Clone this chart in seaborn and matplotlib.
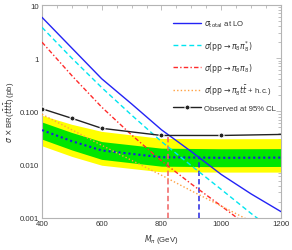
import numpy as np
import pandas as pd
import matplotlib
matplotlib.use("Agg")
import matplotlib.pyplot as plt
import seaborn as sns
from matplotlib.ticker import FixedLocator, NullFormatter, MultipleLocator

# ---- data ----
mass = [400, 500, 600, 700, 800, 900, 1000, 1100, 1200]
sigma_total = [5.87, 1.55, 0.41, 0.138, 0.045, 0.0175, 0.0065, 0.0028, 0.0013]
sigma_pp_conj = [3.8, 1.0, 0.28, 0.085, 0.027, 0.0095, 0.0034, 0.0012, 0.00045]
sigma_pp_pair = [2.0, 0.47, 0.12, 0.036, 0.0117, 0.0043, 0.00166, 0.00063, 0.00025]
sigma_pp_ttbar = [0.088, 0.045, 0.023, 0.012, 0.0063, 0.0032, 0.00166, 0.00085, 0.00045]

lim_mass = [400, 500, 600, 800, 1000, 1200]
observed = [0.112, 0.074, 0.048, 0.0352, 0.0352, 0.0368]
expected = [0.0444, 0.0275, 0.0184, 0.0137, 0.0134, 0.0135]
green_hi = [0.063, 0.040, 0.027, 0.0203, 0.0198, 0.0199]
green_lo = [0.030, 0.0188, 0.0125, 0.0093, 0.0091, 0.0092]
yellow_hi = [0.084, 0.057, 0.042, 0.031, 0.0305, 0.0307]
yellow_lo = [0.0225, 0.0142, 0.0097, 0.0073, 0.0072, 0.0072]

obs_cross_mass = [821]
obs_cross_val = [0.035]
exp_cross_mass = [926]
exp_cross_val = [0.0135]

labels = [r"$\sigma_{\rm total}$ at LO",
          r"$\sigma(\mathrm{pp}\rightarrow\pi_8\pi_8^{*})$",
          r"$\sigma(\mathrm{pp}\rightarrow\pi_8\pi_8)$",
          r"$\sigma(\mathrm{pp}\rightarrow\pi_8 t\bar{t}$ + h.c.)",
          "Observed at 95% CL"]

# ---- figure ----
sns.set_theme(style="white")
plt.rcParams['font.family'] = ['Liberation Sans', 'DejaVu Sans']
plt.rcParams['mathtext.fontset'] = 'dejavusans'

fig = plt.figure(figsize=(2.92, 2.51), dpi=100)
ax = fig.add_axes([0.1438, 0.1287, 0.8185, 0.8473])

ymin, ymax = 0.001, 10

# bands
ax.fill_between(lim_mass, yellow_lo, yellow_hi, color="#ffff00", lw=0, zorder=1)
ax.fill_between(lim_mass, green_lo, green_hi, color="#00e600", lw=0, zorder=2)

df = pd.DataFrame({"mass": mass, "total": sigma_total, "conj": sigma_pp_conj,
                   "pair": sigma_pp_pair, "ttbar": sigma_pp_ttbar})
dl = pd.DataFrame({"mass": lim_mass, "obs": observed, "exp": expected})

lw = 1.0
sns.lineplot(data=dl, x="mass", y="exp", ax=ax, color="#1a1ae6", lw=1.5,
             linestyle=(0, (1.0, 1.4)), zorder=3)
sns.lineplot(data=df, x="mass", y="total", ax=ax, color="#2323f5", lw=lw,
             label=labels[0], zorder=5)
sns.lineplot(data=df, x="mass", y="conj", ax=ax, color="#00e5f0", lw=lw,
             linestyle=(0, (3.5, 2.2)), label=labels[1], zorder=5)
sns.lineplot(data=df, x="mass", y="pair", ax=ax, color="#ff2a2a", lw=lw,
             linestyle=(0, (3.2, 1.6, 1.0, 1.6)), label=labels[2], zorder=5)
sns.lineplot(data=df, x="mass", y="ttbar", ax=ax, color="#ffa040", lw=lw,
             linestyle=(0, (1.0, 1.6)), label=labels[3], zorder=5)
sns.lineplot(data=dl, x="mass", y="obs", ax=ax, color="#222222", lw=1.0,
             marker="o", markersize=3.6, markevery=[0, 1, 2, 3, 4],
             label=labels[4], zorder=6)

# vertical limit lines
ax.vlines(obs_cross_mass, ymin, obs_cross_val, colors="#f06060", lw=1.1,
          linestyles=(0, (3.5, 2.0)), zorder=4)
ax.vlines(exp_cross_mass, ymin, exp_cross_val, colors="#2525e0", lw=1.1,
          linestyles=(0, (3.5, 2.0)), zorder=4)

ax.set_yscale("log")
ax.set_xlim(400, 1200)
ax.set_ylim(ymin, ymax)

ax.xaxis.set_major_locator(MultipleLocator(200))
ax.xaxis.set_minor_locator(MultipleLocator(50))
ax.yaxis.set_major_locator(FixedLocator([0.001, 0.01, 0.1, 1, 10]))
ax.set_yticklabels(["0.001", "0.010", "0.100", "1", "10"])
minor = [m * 10.0 ** e for e in range(-3, 1) for m in range(2, 10)]
ax.yaxis.set_minor_locator(FixedLocator(minor))
ax.yaxis.set_minor_formatter(NullFormatter())

for s in ax.spines.values():
    s.set_color("#b4b4b4")
    s.set_linewidth(0.8)
ax.tick_params(which="both", direction="in", top=True, right=True,
               colors="#b4b4b4", labelcolor="#333333", labelsize=5.6,
               width=0.6, pad=2)
ax.tick_params(which="major", length=3.5)
ax.tick_params(which="minor", length=2)

ax.set_xlabel(r"$M_{\pi}$ (GeV)", fontsize=5.6, color="#333333", labelpad=3)
ax.set_ylabel(r"$\sigma$ $\times$ BR($t\bar{t}t\bar{t}$) (pb)", fontsize=5.6,
              color="#333333", labelpad=2)

leg = ax.legend(loc="upper right", frameon=False, fontsize=5.6,
                handlelength=3.6, handletextpad=0.4, labelspacing=1.05,
                bbox_to_anchor=(1.0, 0.96), borderaxespad=0.3)
for t in leg.get_texts():
    t.set_color("#333333")

fig.savefig("out.png", dpi=100)
